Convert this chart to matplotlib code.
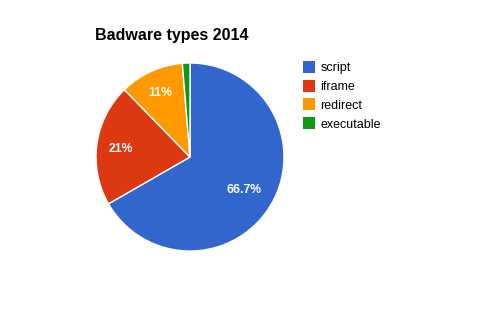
import numpy as np
import matplotlib
matplotlib.use('Agg')
import matplotlib.pyplot as plt
from matplotlib.lines import Line2D

plt.rcParams['font.family'] = ['Liberation Sans', 'DejaVu Sans']

labels = ['script', 'iframe', 'redirect', 'executable']
values = [66.7, 21.0, 11.0, 1.3]
colors = ['#3366CC', '#DC3912', '#FF9900', '#109618']
title = 'Badware types 2014'


def pct_fmt(p):
	if p < 5:
		return ''
	s = '%.1f' % p
	s = s.rstrip('0').rstrip('.')
	return s + '%'


W, H = 494, 312
fig = plt.figure(figsize=(W / 100, H / 100), dpi=100)
cx, cy, r = 190, 157, 94
ax = fig.add_axes([(cx - r) / W, (H - cy - r) / H, 2 * r / W, 2 * r / H])

wedges, texts, autotexts = ax.pie(values, colors=colors, startangle=90, counterclock=False,
	autopct=pct_fmt, pctdistance=0.7,
	wedgeprops=dict(edgecolor='white', linewidth=1),
	textprops=dict(color='white', fontsize=8.8, fontweight='bold'))

# google places labels at slightly different radii
dists = [0.67, 0.74, 0.76, 0.7]
for w, t, d in zip(wedges, autotexts, dists):
	ang = np.deg2rad((w.theta1 + w.theta2) / 2)
	t.set_position((d * np.cos(ang), d * np.sin(ang) - 0.015))

ax.set_xlim(-1, 1)
ax.set_ylim(-1, 1)
ax.set_aspect('equal')
ax.axis('off')

fig.text(95 / W, 1 - 40 / H, title, fontsize=11.5, fontweight='bold', ha='left', va='baseline')

handles = [Line2D([], [], marker='s', linestyle='none', markersize=8, color=c, markeredgewidth=0)
	for c in colors]
fig.legend(handles, labels, loc='upper left', bbox_to_anchor=(303 / W, 1 - 62 / H),
	frameon=False, fontsize=9, handlelength=0.9, handleheight=0.9,
	handletextpad=0.5, labelspacing=0.5, borderaxespad=0, borderpad=0)

fig.savefig('out.png', dpi=100, facecolor='white')
